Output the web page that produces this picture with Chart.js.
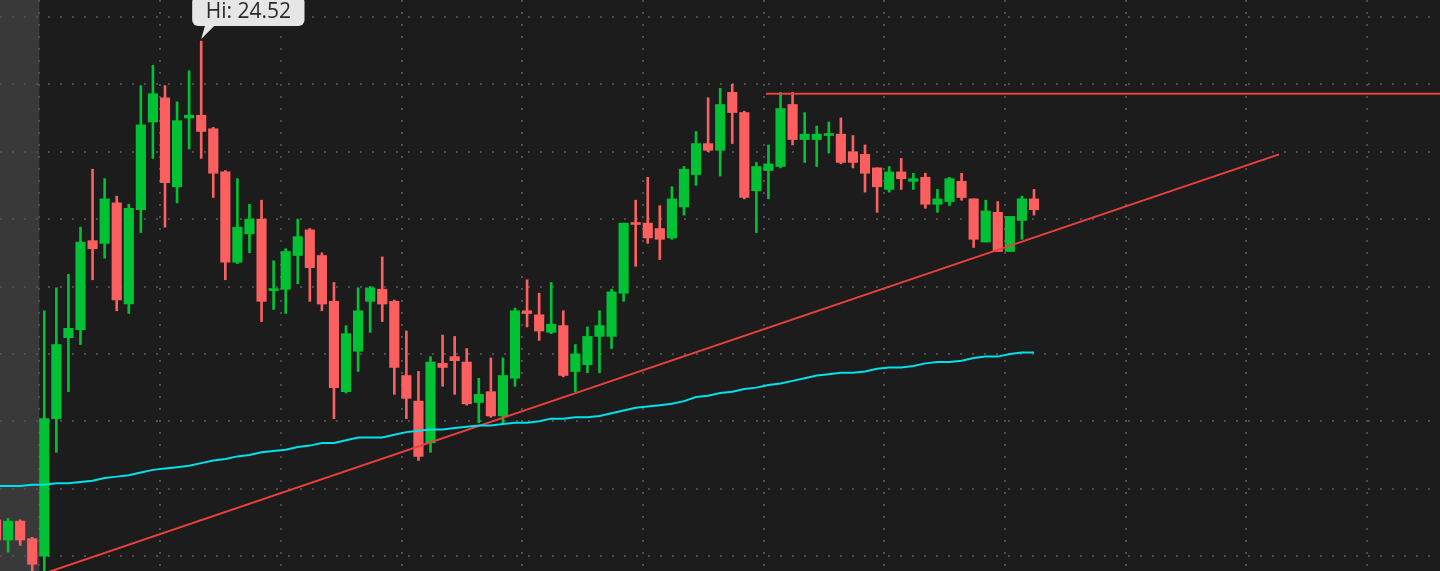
<!DOCTYPE html>
<html lang="en">
<head>
<meta charset="UTF-8">
<title>candles</title>
<script src="https://cdn.jsdelivr.net/npm/chart.js"></script>
<style>
    html, body { margin: 0; padding: 0; background: #1c1c1c; overflow: hidden; }
    #wrap { width: 1440px; height: 571px; position: relative; }
</style>
</head>
<body>
<div id="wrap"><canvas id="myChart"></canvas></div>
<script>
    // daily bars, index 0 = partly hidden bar at the left edge
    const opens = [
        20.97, 20.82, 20.96, 20.83, 20.70, 21.72, 22.32, 22.38, 23.04, 23.02,
        23.32, 22.57, 23.27, 23.92, 24.10, 23.44, 23.95, 23.97, 23.87, 23.55,
        22.88, 23.09, 23.20, 22.67, 22.68, 22.93, 23.12, 22.93, 22.59, 21.92,
        22.22, 22.59, 22.68, 22.59, 22.04, 21.85, 21.54, 22.13, 22.18, 22.14,
        21.84, 21.92, 21.74, 22.02, 22.52, 22.49, 22.36, 22.41, 22.07, 22.12,
        22.33, 22.33, 22.65, 23.17, 23.17, 23.13, 23.06, 23.29, 23.53, 23.76,
        23.71, 24.14, 23.99, 23.41, 23.56, 23.59, 24.05, 23.79, 23.79, 23.82,
        23.83, 23.70, 23.68, 23.58, 23.42, 23.55, 23.48, 23.51, 23.31, 23.33,
        23.48, 23.35, 23.03, 23.25, 22.96, 23.19, 23.35
    ];
    const highs = [
        20.99, 20.98, 20.97, 20.84, 22.52, 22.69, 22.79, 23.14, 23.57, 23.50,
        23.37, 23.31, 24.19, 24.34, 24.19, 24.07, 24.30, 24.52, 23.88, 23.56,
        23.50, 23.31, 23.34, 22.89, 22.98, 23.20, 23.13, 22.95, 22.73, 22.41,
        22.69, 22.70, 22.92, 22.60, 22.37, 22.07, 22.18, 22.34, 22.33, 22.24,
        22.02, 22.17, 22.17, 22.54, 22.75, 22.65, 22.73, 22.52, 22.27, 22.40,
        22.52, 22.68, 23.17, 23.34, 23.51, 23.30, 23.44, 23.59, 23.85, 24.10,
        24.17, 24.20, 24.00, 23.62, 23.75, 24.14, 24.14, 23.99, 23.89, 23.92,
        23.95, 23.82, 23.75, 23.58, 23.59, 23.65, 23.54, 23.54, 23.42, 23.51,
        23.54, 23.35, 23.34, 23.33, 23.22, 23.37, 23.42
    ];
    const lows = [
        20.80, 20.73, 20.78, 20.52, 20.45, 21.47, 21.92, 22.27, 22.75, 22.91,
        22.52, 22.50, 23.10, 23.65, 23.14, 23.32, 23.72, 23.65, 23.36, 22.75,
        22.87, 22.95, 22.44, 22.53, 22.50, 22.72, 22.59, 22.52, 21.72, 21.91,
        22.07, 22.36, 22.44, 21.90, 21.72, 21.41, 21.47, 21.96, 21.90, 21.82,
        21.69, 21.73, 21.69, 21.96, 22.40, 22.30, 22.35, 22.03, 21.92, 22.06,
        22.06, 22.24, 22.59, 22.85, 23.02, 22.90, 23.05, 23.23, 23.45, 23.70,
        23.52, 23.76, 23.35, 23.10, 23.35, 23.58, 23.75, 23.62, 23.59, 23.69,
        23.61, 23.58, 23.40, 23.25, 23.40, 23.42, 23.42, 23.28, 23.25, 23.30,
        23.34, 22.99, 23.03, 22.96, 22.96, 23.05, 23.23
    ];
    const closes = [
        20.82, 20.96, 20.82, 20.64, 21.72, 22.27, 22.39, 23.03, 22.98, 23.35,
        22.60, 23.28, 23.90, 24.13, 23.47, 23.93, 23.97, 23.85, 23.54, 22.88,
        23.14, 23.20, 22.59, 22.68, 22.96, 23.07, 22.84, 22.57, 21.95, 22.35,
        22.52, 22.69, 22.57, 22.10, 21.87, 21.44, 22.14, 22.10, 22.15, 21.83,
        21.90, 21.74, 22.04, 22.52, 22.50, 22.37, 22.42, 22.04, 22.20, 22.33,
        22.41, 22.66, 23.17, 23.16, 23.06, 23.05, 23.35, 23.57, 23.76, 23.71,
        24.05, 23.99, 23.36, 23.59, 23.61, 24.02, 23.79, 23.83, 23.83, 23.83,
        23.62, 23.62, 23.54, 23.44, 23.55, 23.50, 23.50, 23.31, 23.35, 23.50,
        23.36, 23.05, 23.26, 22.96, 23.22, 23.35, 23.27
    ];
    // moving average (cyan)
    const ma = [
        21.22, 21.22, 21.22, 21.23, 21.23, 21.24, 21.24, 21.25, 21.26, 21.28,
        21.29, 21.30, 21.32, 21.34, 21.35, 21.36, 21.37, 21.39, 21.41, 21.42,
        21.44, 21.45, 21.47, 21.48, 21.49, 21.51, 21.52, 21.54, 21.54, 21.56,
        21.58, 21.58, 21.58, 21.60, 21.62, 21.63, 21.64, 21.64, 21.65, 21.66,
        21.67, 21.67, 21.68, 21.69, 21.69, 21.70, 21.72, 21.72, 21.73, 21.73,
        21.74, 21.76, 21.78, 21.80, 21.81, 21.82, 21.83, 21.85, 21.88, 21.89,
        21.91, 21.92, 21.94, 21.95, 21.97, 21.98, 22.00, 22.02, 22.04, 22.05,
        22.06, 22.06, 22.07, 22.09, 22.10, 22.10, 22.11, 22.13, 22.14, 22.14,
        22.15, 22.17, 22.18, 22.18, 22.20, 22.21, 22.21
    ];
    // drawn lines: rising trend line and flat resistance line
    const trendX = [3.6, 106.3];
    const trendY = [20.56, 23.68];
    const resistX = [63.8, 125];
    const resistY = [24.13, 24.13];

    // grid positions (no labels shown on the picture)
    const gridPrices = [24.7, 24.2, 23.7, 23.2, 22.7, 22.2, 21.7, 21.2, 20.7];
    const gridBars = [3.6, 13.6, 23.6, 33.6, 43.6, 53.6, 63.6, 73.6, 83.6, 93.6, 103.6, 113.6];
    const hiIndex = 17;

    const UP = '#00c234';
    const DOWN = '#fb5f5f';
    const candleColor = c => closes[c.dataIndex] >= opens[c.dataIndex] ? UP : DOWN;

    const wickData = highs.map((h, i) => ({x: i, y: [lows[i], h]}));
    const bodyData = opens.map((o, i) => ({x: i, y: [o, closes[i]]}));
    const maData = ma.map((v, i) => ({x: i, y: v}));
    const trendData = trendX.map((v, i) => ({x: v, y: trendY[i]}));
    const resistData = resistX.map((v, i) => ({x: v, y: resistY[i]}));

    const band = {
        id: 'band',
        beforeDraw(chart) {
            const {ctx, chartArea, scales: {x}} = chart;
            ctx.save();
            ctx.fillStyle = '#1c1c1c';
            ctx.fillRect(0, 0, chart.width, chart.height);
            ctx.fillStyle = '#393939';
            ctx.fillRect(chartArea.left, chartArea.top, x.getPixelForValue(gridBars[0]) - chartArea.left, chartArea.bottom - chartArea.top);
            ctx.restore();
        }
    };

    const hiLabel = {
        id: 'hiLabel',
        afterDraw(chart) {
            const {ctx, scales: {x, y}} = chart;
            const px = x.getPixelForValue(hiIndex);
            const py = y.getPixelForValue(highs[hiIndex]) - 2;
            const text = 'Hi: ' + highs[hiIndex].toFixed(2);
            ctx.save();
            ctx.font = '21px "Open Sans"';
            const w = ctx.measureText(text).width + 27;
            const left = px - 9;
            const bottom = py - 13;
            const top = bottom - 30;
            ctx.fillStyle = '#e6e6e6';
            ctx.beginPath();
            ctx.roundRect(left, top, w, bottom - top, 6);
            ctx.fill();
            ctx.beginPath();
            ctx.moveTo(px + 4, bottom - 1);
            ctx.lineTo(px + 14, bottom - 1);
            ctx.lineTo(px, py);
            ctx.closePath();
            ctx.fill();
            ctx.fillStyle = '#2a2a2a';
            ctx.textAlign = 'center';
            ctx.textBaseline = 'middle';
            ctx.fillText(text, left + w / 2, (top + bottom) / 2 + 1);
            ctx.restore();
        }
    };

    const ctx = document.getElementById('myChart').getContext('2d');
    const myChart = new Chart(ctx, {
        type: 'bar',
        data: {
            datasets: [
                {
                    type: 'line', data: maData, borderColor: '#00e1ec', borderWidth: 2,
                    pointRadius: 0, tension: 0, order: 0
                },
                {
                    type: 'line', data: trendData, borderColor: '#e8403c', borderWidth: 2,
                    pointRadius: 0, order: 0
                },
                {
                    type: 'line', data: resistData, borderColor: '#e8403c', borderWidth: 2,
                    pointRadius: 0, order: 0
                },
                {
                    data: bodyData, backgroundColor: candleColor, barThickness: 9.5,
                    minBarLength: 2, grouped: false, order: 1
                },
                {
                    data: wickData, backgroundColor: candleColor, barThickness: 2,
                    grouped: false, order: 2
                }
            ]
        },
        options: {
            responsive: true,
            maintainAspectRatio: false,
            animation: false,
            events: [],
            layout: { padding: 0 },
            plugins: { legend: { display: false }, tooltip: { enabled: false } },
            scales: {
                x: {
                    type: 'linear', min: 0.33, max: 119.64, offset: false,
                    grid: { offset: false, color: '#4e4e4e', lineWidth: 2, drawTicks: false },
                    border: { display: false, dash: [2, 10] },
                    ticks: { display: false },
                    afterBuildTicks: s => { s.ticks = gridBars.map(v => ({value: v})); }
                },
                y: {
                    min: 20.59, max: 24.825,
                    grid: { color: '#4e4e4e', lineWidth: 2, drawTicks: false },
                    border: { display: false, dash: [2, 10] },
                    ticks: { display: false },
                    afterBuildTicks: s => { s.ticks = gridPrices.map(v => ({value: v})); }
                }
            }
        },
        plugins: [band, hiLabel]
    });
</script>
</body>
</html>
